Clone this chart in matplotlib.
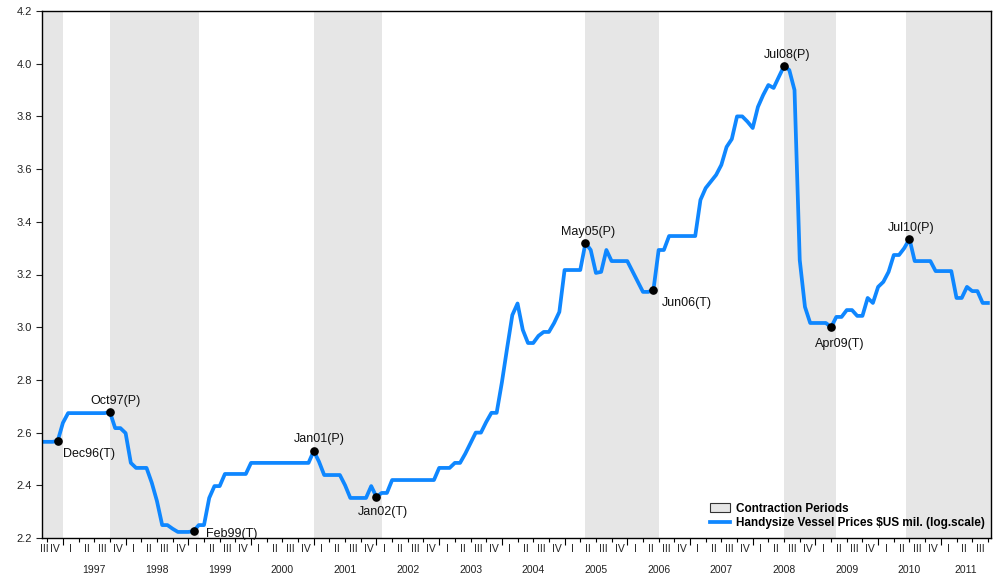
import numpy as np
import matplotlib
matplotlib.use("Agg")
import matplotlib.pyplot as plt
from matplotlib.patches import Patch
from matplotlib.lines import Line2D

plt.rcParams['font.family'] = ['Liberation Sans', 'DejaVu Sans']

# monthly series, Sep 1996 .. Oct 2011 (log of price, $US mil.)
start_year, start_month = 1996, 9
price = [
    2.565, 2.565, 2.565, 2.568,                                                      # 1996 Sep-Dec
    2.637, 2.674, 2.674, 2.674, 2.674, 2.674, 2.674, 2.674, 2.674, 2.678, 2.617, 2.617,  # 1997
    2.598, 2.485, 2.466, 2.466, 2.466, 2.410, 2.340, 2.249, 2.249, 2.235, 2.223, 2.223,  # 1998
    2.223, 2.226, 2.249, 2.249, 2.352, 2.397, 2.397, 2.443, 2.443, 2.443, 2.443, 2.443,  # 1999
    2.485, 2.485, 2.485, 2.485, 2.485, 2.485, 2.485, 2.485, 2.485, 2.485, 2.485, 2.485,  # 2000
    2.530, 2.490, 2.439, 2.439, 2.439, 2.439, 2.400, 2.352, 2.352, 2.352, 2.352, 2.397,  # 2001
    2.356, 2.371, 2.371, 2.420, 2.420, 2.420, 2.420, 2.420, 2.420, 2.420, 2.420, 2.420,  # 2002
    2.466, 2.466, 2.466, 2.485, 2.485, 2.520, 2.560, 2.600, 2.600, 2.640, 2.675, 2.675,  # 2003
    2.790, 2.920, 3.046, 3.090, 2.990, 2.940, 2.940, 2.967, 2.982, 2.982, 3.016, 3.058,  # 2004
    3.217, 3.217, 3.217, 3.217, 3.320, 3.293, 3.206, 3.210, 3.293, 3.251, 3.251, 3.251,  # 2005
    3.251, 3.212, 3.173, 3.134, 3.134, 3.141, 3.293, 3.293, 3.346, 3.346, 3.346, 3.346,  # 2006
    3.346, 3.346, 3.483, 3.528, 3.553, 3.578, 3.616, 3.684, 3.714, 3.800, 3.800, 3.780,  # 2007
    3.756, 3.836, 3.881, 3.919, 3.908, 3.950, 3.991, 3.976, 3.900, 3.255, 3.077, 3.016,  # 2008
    3.016, 3.016, 3.016, 3.000, 3.039, 3.039, 3.065, 3.065, 3.043, 3.043, 3.111, 3.092,  # 2009
    3.153, 3.172, 3.210, 3.274, 3.274, 3.300, 3.335, 3.251, 3.251, 3.251, 3.251, 3.213,  # 2010
    3.213, 3.213, 3.213, 3.111, 3.111, 3.153, 3.137, 3.137, 3.092, 3.092,                # 2011 Jan-Oct
]

# turning points (year, month, label)
turning_points = [
    (1996, 12, 'Dec96(T)'), (1997, 10, 'Oct97(P)'), (1999, 2, 'Feb99(T)'),
    (2001, 1, 'Jan01(P)'), (2002, 1, 'Jan02(T)'), (2005, 5, 'May05(P)'),
    (2006, 6, 'Jun06(T)'), (2008, 7, 'Jul08(P)'), (2009, 4, 'Apr09(T)'),
    (2010, 7, 'Jul10(P)'),
]
# label offsets in points (dx, dy, ha)
label_offsets = [
    (4, -9, 'left'), (4, 8, 'center'), (9, -2, 'left'), (4, 9, 'center'),
    (5, -11, 'center'), (2, 8, 'center'), (6, -9, 'left'), (2, 8, 'center'),
    (6, -12, 'center'), (1, 8, 'center'),
]

quarter_names = ['I', 'II', 'III', 'IV']
years = list(range(1997, 2012))

def month_index(y, m):
    # months since Jan 1997
    return (y - 1997) * 12 + (m - 1)

t0 = month_index(start_year, start_month)
t = np.arange(t0, t0 + len(price))
x_lo, x_hi = t0, t[-1] + 0.6

# contraction periods: peak -> trough (+1 month)
shade_periods = []
pts = [month_index(y, m) for y, m, _ in turning_points]
shade_periods.append((x_lo, pts[0] + 1))
for i in range(1, len(pts) - 1, 2):
    shade_periods.append((pts[i], pts[i + 1] + 1))
shade_periods.append((pts[-1] - 0.6, x_hi))

fig = plt.figure(figsize=(10.02, 5.80), dpi=100)
ax = fig.add_axes([42 / 1002, 42 / 580, 949 / 1002, 527 / 580])

shade_col = '#e6e6e6'
line_col = '#0f87ff'

for a, b in shade_periods:
    ax.axvspan(a, b, color=shade_col, lw=0, zorder=0)

ax.plot(t, price, color=line_col, lw=2.7, solid_joinstyle='round', zorder=2)

for (y, m, lab), (dx, dy, ha) in zip(turning_points, label_offsets):
    ti = month_index(y, m)
    v = price[ti - t0]
    ax.plot(ti, v, 'o', color='black', ms=5.2, zorder=3)
    ax.annotate(lab, (ti, v), xytext=(dx, dy), textcoords='offset points',
                ha=ha, va='center', fontsize=9, color='#111111')

ax.set_xlim(x_lo, x_hi)
ax.set_ylim(2.2, 4.2)
ax.set_yticks(np.arange(2.2, 4.21, 0.2))
ax.set_yticklabels(['%.1f' % v for v in np.arange(2.2, 4.21, 0.2)])
ax.tick_params(axis='y', direction='out', length=4, width=0.8, labelsize=8, pad=3, colors='#222222')

# x axis: year ticks (major), quarter ticks (minor), labels drawn as text
ax.set_xticks([month_index(y, 1) for y in years])
ax.set_xticklabels([])
ax.set_xticks(np.arange(-3, x_hi, 3), minor=True)
ax.tick_params(axis='x', which='major', direction='out', length=5, width=0.8)
ax.tick_params(axis='x', which='minor', direction='out', length=3, width=0.8)

for y in range(1996, 2012):
    for q in range(4):
        a = month_index(y, q * 3 + 1)
        b = a + 3
        a2, b2 = max(a, x_lo), min(b, x_hi)
        if b2 - a2 < 1:
            continue
        ax.annotate(quarter_names[q], ((a2 + b2) / 2, 0), xycoords=('data', 'axes fraction'),
                    xytext=(0, -8), textcoords='offset points', ha='center', va='center',
                    fontsize=7.5, color='#222222')
for y in years:
    a = month_index(y, 1)
    b = min(a + 12, x_hi)
    ax.annotate(str(y), ((a + b) / 2, 0), xycoords=('data', 'axes fraction'),
                xytext=(0, -23), textcoords='offset points', ha='center', va='center',
                fontsize=7.5, color='#222222')

for s in ax.spines.values():
    s.set_linewidth(1.0)
    s.set_color('black')

handles = [Patch(facecolor=shade_col, edgecolor='#333333', lw=0.8),
           Line2D([], [], color=line_col, lw=2.7)]
labels = ['Contraction Periods', 'Handysize Vessel Prices $US mil. (log.scale)']
ax.legend(handles, labels, loc='lower right', bbox_to_anchor=(1.0, 0.006), frameon=False,
          prop={'size': 8.5, 'weight': 'bold'}, handlelength=1.7, handleheight=0.7,
          handletextpad=0.5, labelspacing=0.2, borderaxespad=0.1)

fig.savefig('out.png', dpi=100)
